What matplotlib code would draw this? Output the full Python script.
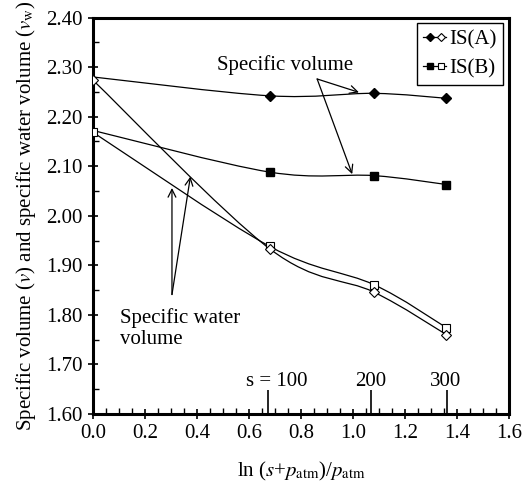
import matplotlib
matplotlib.use("Agg")
import matplotlib.pyplot as plt
import numpy as np
from matplotlib.path import Path
from matplotlib.patches import PathPatch
from matplotlib.lines import Line2D
from matplotlib.legend_handler import HandlerBase
from matplotlib.ticker import MultipleLocator, FormatStrFormatter

plt.rcParams["font.family"] = ["Liberation Serif", "DejaVu Serif"]
plt.rcParams["mathtext.fontset"] = "stix"

# data
ln_s = [0.0, 0.68, 1.08, 1.36]
vol_a = [2.280, 2.242, 2.247, 2.237]
vol_b = [2.172, 2.088, 2.081, 2.063]
water_a = [2.273, 1.933, 1.846, 1.760]
water_b = [2.168, 1.938, 1.861, 1.774]

s_labels = ["s = 100", "200", "300"]
s_pos = [0.673, 1.070, 1.362]


def smooth_path(xs, ys):
    # Excel-style smoothed line: cubic bezier through the points
    pts = np.column_stack([xs, ys])
    n = len(pts)
    verts = [pts[0]]
    codes = [Path.MOVETO]
    for i in range(n - 1):
        p0 = pts[max(i - 1, 0)]
        p1 = pts[i]
        p2 = pts[i + 1]
        p3 = pts[min(i + 2, n - 1)]
        c1 = p1 + (p2 - p0) / 6.0
        c2 = p2 - (p3 - p1) / 6.0
        verts += [c1, c2, p2]
        codes += [Path.CURVE4] * 3
    return Path(verts, codes)


class PairHandler(HandlerBase):
    def __init__(self, marker, size):
        super().__init__()
        self.marker = marker
        self.size = size

    def create_artists(self, legend, orig_handle, xdescent, ydescent,
                       width, height, fontsize, trans):
        y = (height - ydescent) / 2
        line = Line2D([0, width], [y, y], color="black", lw=0.9, transform=trans)
        m1 = Line2D([width * 0.3], [y], marker=self.marker, ms=self.size,
                    mfc="black", mec="black", ls="none", transform=trans)
        m2 = Line2D([width * 0.8], [y], marker=self.marker, ms=self.size,
                    mfc="white", mec="black", mew=0.8, ls="none", transform=trans)
        return [line, m1, m2]


fig = plt.figure(figsize=(5.24, 4.87), dpi=100)
ax = fig.add_axes([0.178, 0.150, 0.793, 0.814])

for xs, ys in [(ln_s, vol_a), (ln_s, vol_b), (ln_s, water_a), (ln_s, water_b)]:
    ax.add_patch(PathPatch(smooth_path(xs, ys), fill=False, edgecolor="black",
                           lw=0.9, zorder=2))

ax.plot(ln_s[1:], vol_a[1:], ls="none", marker="D", ms=5, color="black", zorder=3)
ax.plot(ln_s[1:], vol_b[1:], ls="none", marker="s", ms=5.5, color="black", zorder=3)
ax.plot(ln_s, water_b, ls="none", marker="s", ms=5.5, mfc="white", mec="black",
        mew=0.8, zorder=3)
ax.plot(ln_s, water_a, ls="none", marker="D", ms=5, mfc="white", mec="black",
        mew=0.8, zorder=4)

ax.set_xlim(0, 1.6)
ax.set_ylim(1.6, 2.4)
ax.xaxis.set_major_locator(MultipleLocator(0.2))
ax.xaxis.set_minor_locator(MultipleLocator(0.05))
ax.yaxis.set_major_locator(MultipleLocator(0.1))
ax.yaxis.set_minor_locator(MultipleLocator(0.05))
ax.xaxis.set_major_formatter(FormatStrFormatter("%.1f"))
ax.yaxis.set_major_formatter(FormatStrFormatter("%.2f"))
ax.tick_params(which="major", direction="inout", length=7, width=1.2,
               labelsize=15, pad=4)
ax.tick_params(which="minor", direction="in", length=4, width=1.0)
for sp in ax.spines.values():
    sp.set_linewidth(2.2)

ax.set_xlabel(r"ln ($\mathit{s}$+$\mathit{p}_{\mathrm{atm}}$)/$\mathit{p}_{\mathrm{atm}}$",
              fontsize=15, labelpad=12)
ax.set_ylabel(r"Specific volume ($\mathit{v}$) and specific water volume ($\mathit{v}_{\mathrm{w}}$)",
              fontsize=15, labelpad=6)

# suction markers along the bottom
ax.vlines(s_pos, 1.6, 1.648, color="black", lw=1.2)
for lab, xp in zip(s_labels, [0.705, 1.068, 1.356]):
    ax.text(xp, 1.666, lab, ha="center", va="center", fontsize=15)

arrow = dict(arrowstyle="->", lw=0.9, color="black", shrinkA=0, shrinkB=0,
             mutation_scale=14)
ax.text(0.74, 2.304, "Specific volume", ha="center", va="center", fontsize=15)
ax.annotate("", xy=(1.023, 2.249), xytext=(0.862, 2.276), arrowprops=arrow)
ax.annotate("", xy=(0.997, 2.084), xytext=(0.862, 2.276), arrowprops=arrow)

ax.text(0.104, 1.772, "Specific water\nvolume", ha="left", va="center",
        fontsize=15, linespacing=1.15)
ax.annotate("", xy=(0.303, 2.056), xytext=(0.303, 1.841), arrowprops=arrow)
ax.annotate("", xy=(0.374, 2.079), xytext=(0.303, 1.841), arrowprops=arrow)

h_a = Line2D([], [])
h_b = Line2D([], [])
leg = ax.legend([h_a, h_b], ["IS(A)", "IS(B)"], loc="upper right",
                bbox_to_anchor=(0.985, 0.985), fontsize=15, handlelength=1.1,
                handletextpad=0.15, borderpad=0.3, labelspacing=0.45,
                borderaxespad=0.0,
                handler_map={h_a: PairHandler("D", 4.5), h_b: PairHandler("s", 5)},
                fancybox=False, edgecolor="black", framealpha=1)
leg.get_frame().set_linewidth(1.0)

fig.savefig("out.png", dpi=100)
